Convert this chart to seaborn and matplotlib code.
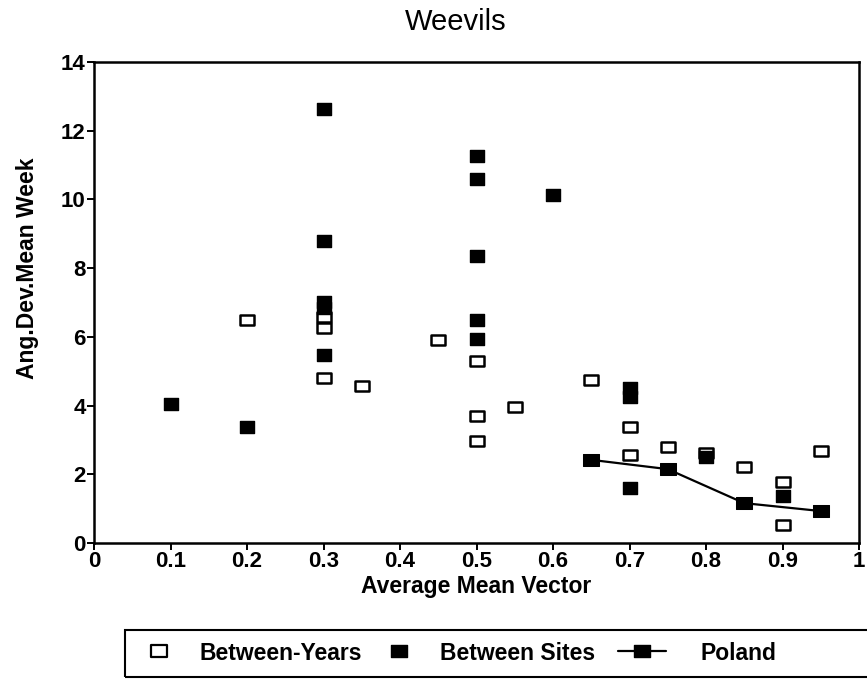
import matplotlib
matplotlib.use("Agg")
import matplotlib.pyplot as plt
from matplotlib.lines import Line2D
from matplotlib.patches import Rectangle
from matplotlib.path import Path
import seaborn as sns

# data
years_x = [0.2, 0.3, 0.3, 0.3, 0.35, 0.45, 0.5, 0.5, 0.5, 0.55, 0.65,
           0.7, 0.7, 0.75, 0.8, 0.85, 0.9, 0.9, 0.95]
years_y = [6.49, 6.58, 6.26, 4.80, 4.57, 5.91, 5.30, 3.70, 2.97, 3.96, 4.74,
           3.38, 2.56, 2.79, 2.62, 2.21, 1.78, 0.52, 2.68]

sites_x = [0.1, 0.2, 0.3, 0.3, 0.3, 0.3, 0.3, 0.5, 0.5, 0.5, 0.5, 0.5,
           0.6, 0.7, 0.7, 0.7, 0.8, 0.9]
sites_y = [4.05, 3.38, 12.63, 8.79, 7.01, 6.84, 5.47, 11.26, 10.59, 8.35,
           6.49, 5.94, 10.13, 4.51, 4.25, 1.60, 2.50, 1.37]

poland_x = [0.65, 0.75, 0.85, 0.95]
poland_y = [2.42, 2.15, 1.16, 0.93]

x_ticks = [0, 0.1, 0.2, 0.3, 0.4, 0.5, 0.6, 0.7, 0.8, 0.9, 1]
x_labels = ["0", "0.1", "0.2", "0.3", "0.4", "0.5", "0.6", "0.7", "0.8", "0.9", "1"]
y_ticks = [0, 2, 4, 6, 8, 10, 12, 14]

sns.set_style("ticks")
plt.rcParams["font.family"] = ["Liberation Sans", "DejaVu Sans"]
plt.rcParams["text.color"] = "black"
plt.rcParams["axes.labelcolor"] = "black"

# wide rectangular marker like the original
box = Path([(-1.35, -1), (1.35, -1), (1.35, 1), (-1.35, 1), (-1.35, -1)],
           closed=True)

W, H = 867, 680
fig = plt.figure(figsize=(W / 100, H / 100), dpi=100)
ax = fig.add_axes([94 / W, 1 - 543 / H, (859 - 94) / W, (543 - 62) / H])

sns.lineplot(x=poland_x, y=poland_y, ax=ax, color="black", lw=1.6,
             marker=box, markersize=11, markerfacecolor="black",
             markeredgecolor="black", zorder=3)
sns.scatterplot(x=years_x, y=years_y, ax=ax, marker=box, s=95,
                color="white", edgecolor="black", linewidth=1.8, zorder=2)
sns.scatterplot(x=sites_x, y=sites_y, ax=ax, marker=box, s=115,
                color="black", edgecolor="black", linewidth=1.0, zorder=4)

ax.set_xlim(0, 1)
ax.set_ylim(0, 14)
ax.set_xticks(x_ticks)
ax.set_xticklabels(x_labels)
ax.set_yticks(y_ticks)
for s in ax.spines.values():
    s.set_linewidth(1.8)
    s.set_color("black")
ax.tick_params(direction="out", length=5, width=1.4, pad=1,
               labelsize=16, colors="black")
for lab in ax.get_xticklabels() + ax.get_yticklabels():
    lab.set_fontweight("bold")

ax.set_xlabel("Average Mean Vector", fontsize=16.5, fontweight="bold",
              labelpad=2)
ax.set_ylabel("Ang.Dev.Mean Week", fontsize=16.5, fontweight="bold")
ax.yaxis.set_label_coords(-0.072, 0.572)

fig.text(456 / W, 1 - 30 / H, "Weevils", fontsize=21, ha="center",
         va="baseline", color="black")

# legend frame runs off the right edge in the original
fig.patches.append(Rectangle((125 / W, 3 / H), (880 - 125) / W, 47 / H,
                             transform=fig.transFigure, fill=False,
                             edgecolor="black", linewidth=1.5))
open_h = Line2D([], [], ls="none", marker=box, markersize=11,
                markerfacecolor="white", markeredgecolor="black",
                markeredgewidth=1.6)
fill_h = Line2D([], [], ls="none", marker=box, markersize=11,
                markerfacecolor="black", markeredgecolor="black")
line_h = Line2D([], [], color="black", lw=1.6, marker=box, markersize=11,
                markerfacecolor="black", markeredgecolor="black")
leg_kw = dict(loc="center left", frameon=False, borderpad=0,
              borderaxespad=0, handlelength=2.1,
              prop={"size": 16.5, "weight": "bold"})
fig.legend([open_h, fill_h], ["Between-Years", "Between Sites"], ncol=2,
           bbox_to_anchor=(135 / W, 27 / H), handletextpad=0.7,
           columnspacing=0.6, **leg_kw)
fig.legend([line_h], ["Poland"], bbox_to_anchor=(618 / W, 27 / H),
           handletextpad=1.5, **leg_kw)

fig.savefig("out.png", dpi=100)
